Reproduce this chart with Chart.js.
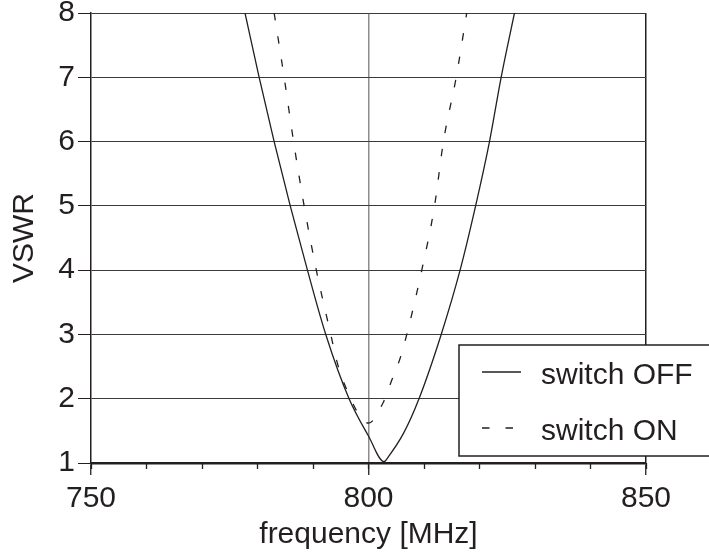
<!DOCTYPE html>
<html>
<head>
<meta charset="utf-8">
<script src="https://cdn.jsdelivr.net/npm/chart.js@4.4.1/dist/chart.umd.min.js"></script>
<style>
  html, body { margin: 0; padding: 0; background: #fff; }
  #wrap { width: 709px; height: 558px; }
</style>
</head>
<body>
<div id="wrap"><canvas id="chart-vswr"></canvas></div>
<script>
// frequency [MHz] / VSWR
const freqOff = [777.75, 780.3, 783.0, 785.9, 789.0, 792.3, 796.5, 800.0, 802.8, 803.6, 806.3, 809.1, 813.1, 816.5, 819.3, 821.8, 823.9, 826.3];
const vswrOff = [8, 7, 6, 5, 4, 3, 2, 1.42, 1.02, 1.1, 1.46, 2, 3, 4, 5, 6, 7, 8];
const freqOn = [783.0, 784.8, 786.5, 788.4, 790.6, 793.2, 794.4, 795.6, 800.0, 802.7, 804.2, 805.7, 806.9, 809.6, 811.9, 813.5, 815.8, 817.7];
const vswrOn = [8, 7, 6, 5, 4, 3, 2.55, 2.24, 1.62, 1.95, 2.29, 2.63, 3, 4, 5, 6, 7, 8];
const xTicks = [750, 800, 850];
const yTicks = [1, 2, 3, 4, 5, 6, 7, 8];
const labelOff = "switch OFF";
const labelOn = "switch ON";

const ink = "#231f20";
const fontFamily = "'Liberation Sans', Arial, sans-serif";

function toPoints(xs, ys) {
  return xs.map((x, i) => ({ x: x, y: ys[i] }));
}

// legend box in the lower right corner, on top of the plot
const boxLegend = {
  id: "boxLegend",
  afterDraw(chart) {
    const ctx = chart.ctx;
    const sets = chart.data.datasets;
    ctx.save();
    ctx.fillStyle = "#fff";
    ctx.fillRect(459, 345, 260, 111);
    ctx.strokeStyle = ink;
    ctx.lineWidth = 1.5;
    ctx.strokeRect(459, 345, 260, 111);
    ctx.font = "30px " + fontFamily;
    ctx.textBaseline = "alphabetic";
    ctx.textAlign = "left";
    for (let i = 0; i < sets.length; i++) {
      const y = 372 + i * 56;
      ctx.beginPath();
      ctx.lineWidth = 1.3;
      ctx.setLineDash(sets[i].borderDash || []);
      ctx.moveTo(482, y);
      ctx.lineTo(521, y);
      ctx.stroke();
      ctx.setLineDash([]);
      ctx.fillStyle = ink;
      ctx.fillText(sets[i].label, 541, y + 11.5);
    }
    ctx.restore();
  },
};

const ctx = document.getElementById("chart-vswr");
const chart = new Chart(ctx, {
  type: "line",
  data: {
    datasets: [
      {
        label: labelOff,
        data: toPoints(freqOff, vswrOff),
        borderColor: ink,
        borderWidth: 1.3,
        pointRadius: 0,
        cubicInterpolationMode: "monotone",
      },
      {
        label: labelOn,
        data: toPoints(freqOn, vswrOn),
        borderColor: ink,
        borderWidth: 1.3,
        borderDash: [7.5, 16],
        pointRadius: 0,
        cubicInterpolationMode: "monotone",
      },
    ],
  },
  options: {
    responsive: true,
    maintainAspectRatio: false,
    animation: false,
    layout: { padding: { left: 0, top: 13, right: 63, bottom: 0 } },
    plugins: {
      legend: { display: false },
      tooltip: { enabled: false },
    },
    scales: {
      x: {
        type: "linear",
        position: "bottom",
        weight: 1,
        min: 750,
        max: 850,
        afterBuildTicks: (scale) => {
          scale.ticks = xTicks.map((v) => ({ value: v }));
        },
        afterFit: (scale) => {
          scale.height = 95;
          scale.paddingLeft = 0;
          scale.paddingRight = 0;
        },
        border: { display: true, color: ink, width: 2.5 },
        grid: {
          color: (c) => (c.tick && c.tick.value === 800 ? "#8c8c8c" : c.tick && c.tick.value === 850 ? ink : "rgba(0,0,0,0)"),
          lineWidth: 1.5,
          tickColor: ink,
          tickLength: 12,
          tickWidth: 1.3,
        },
        ticks: {
          color: ink,
          padding: 6,
          maxRotation: 0,
          font: { family: fontFamily, size: 30 },
        },
        title: {
          display: true,
          text: "frequency [MHz]",
          color: ink,
          font: { family: fontFamily, size: 30 },
          padding: { top: 0, bottom: 5 },
        },
      },
      xMinor: {
        type: "linear",
        position: "bottom",
        weight: 0,
        min: 750,
        max: 850,
        afterFit: (scale) => {
          scale.height = 0;
          scale.paddingLeft = 0;
          scale.paddingRight = 0;
        },
        border: { display: false },
        grid: {
          drawOnChartArea: false,
          tickColor: ink,
          tickLength: 6,
          tickWidth: 1.3,
        },
        ticks: { display: false, stepSize: 10 },
      },
      y: {
        type: "linear",
        min: 1,
        max: 8,
        afterBuildTicks: (scale) => {
          scale.ticks = yTicks.map((v) => ({ value: v }));
        },
        afterFit: (scale) => {
          scale.width = 91;
          scale.paddingTop = 0;
          scale.paddingBottom = 0;
        },
        border: { display: true, color: ink, width: 1.5 },
        grid: {
          color: "#3a3a3a",
          lineWidth: 1,
          tickColor: ink,
          tickLength: 13,
        },
        ticks: {
          color: ink,
          padding: 3,
          font: { family: fontFamily, size: 30 },
        },
        title: {
          display: true,
          text: "VSWR",
          color: ink,
          font: { family: fontFamily, size: 30 },
          padding: { top: 7, bottom: 0 },
        },
      },
    },
  },
  plugins: [boxLegend],
});
</script>
</body>
</html>
